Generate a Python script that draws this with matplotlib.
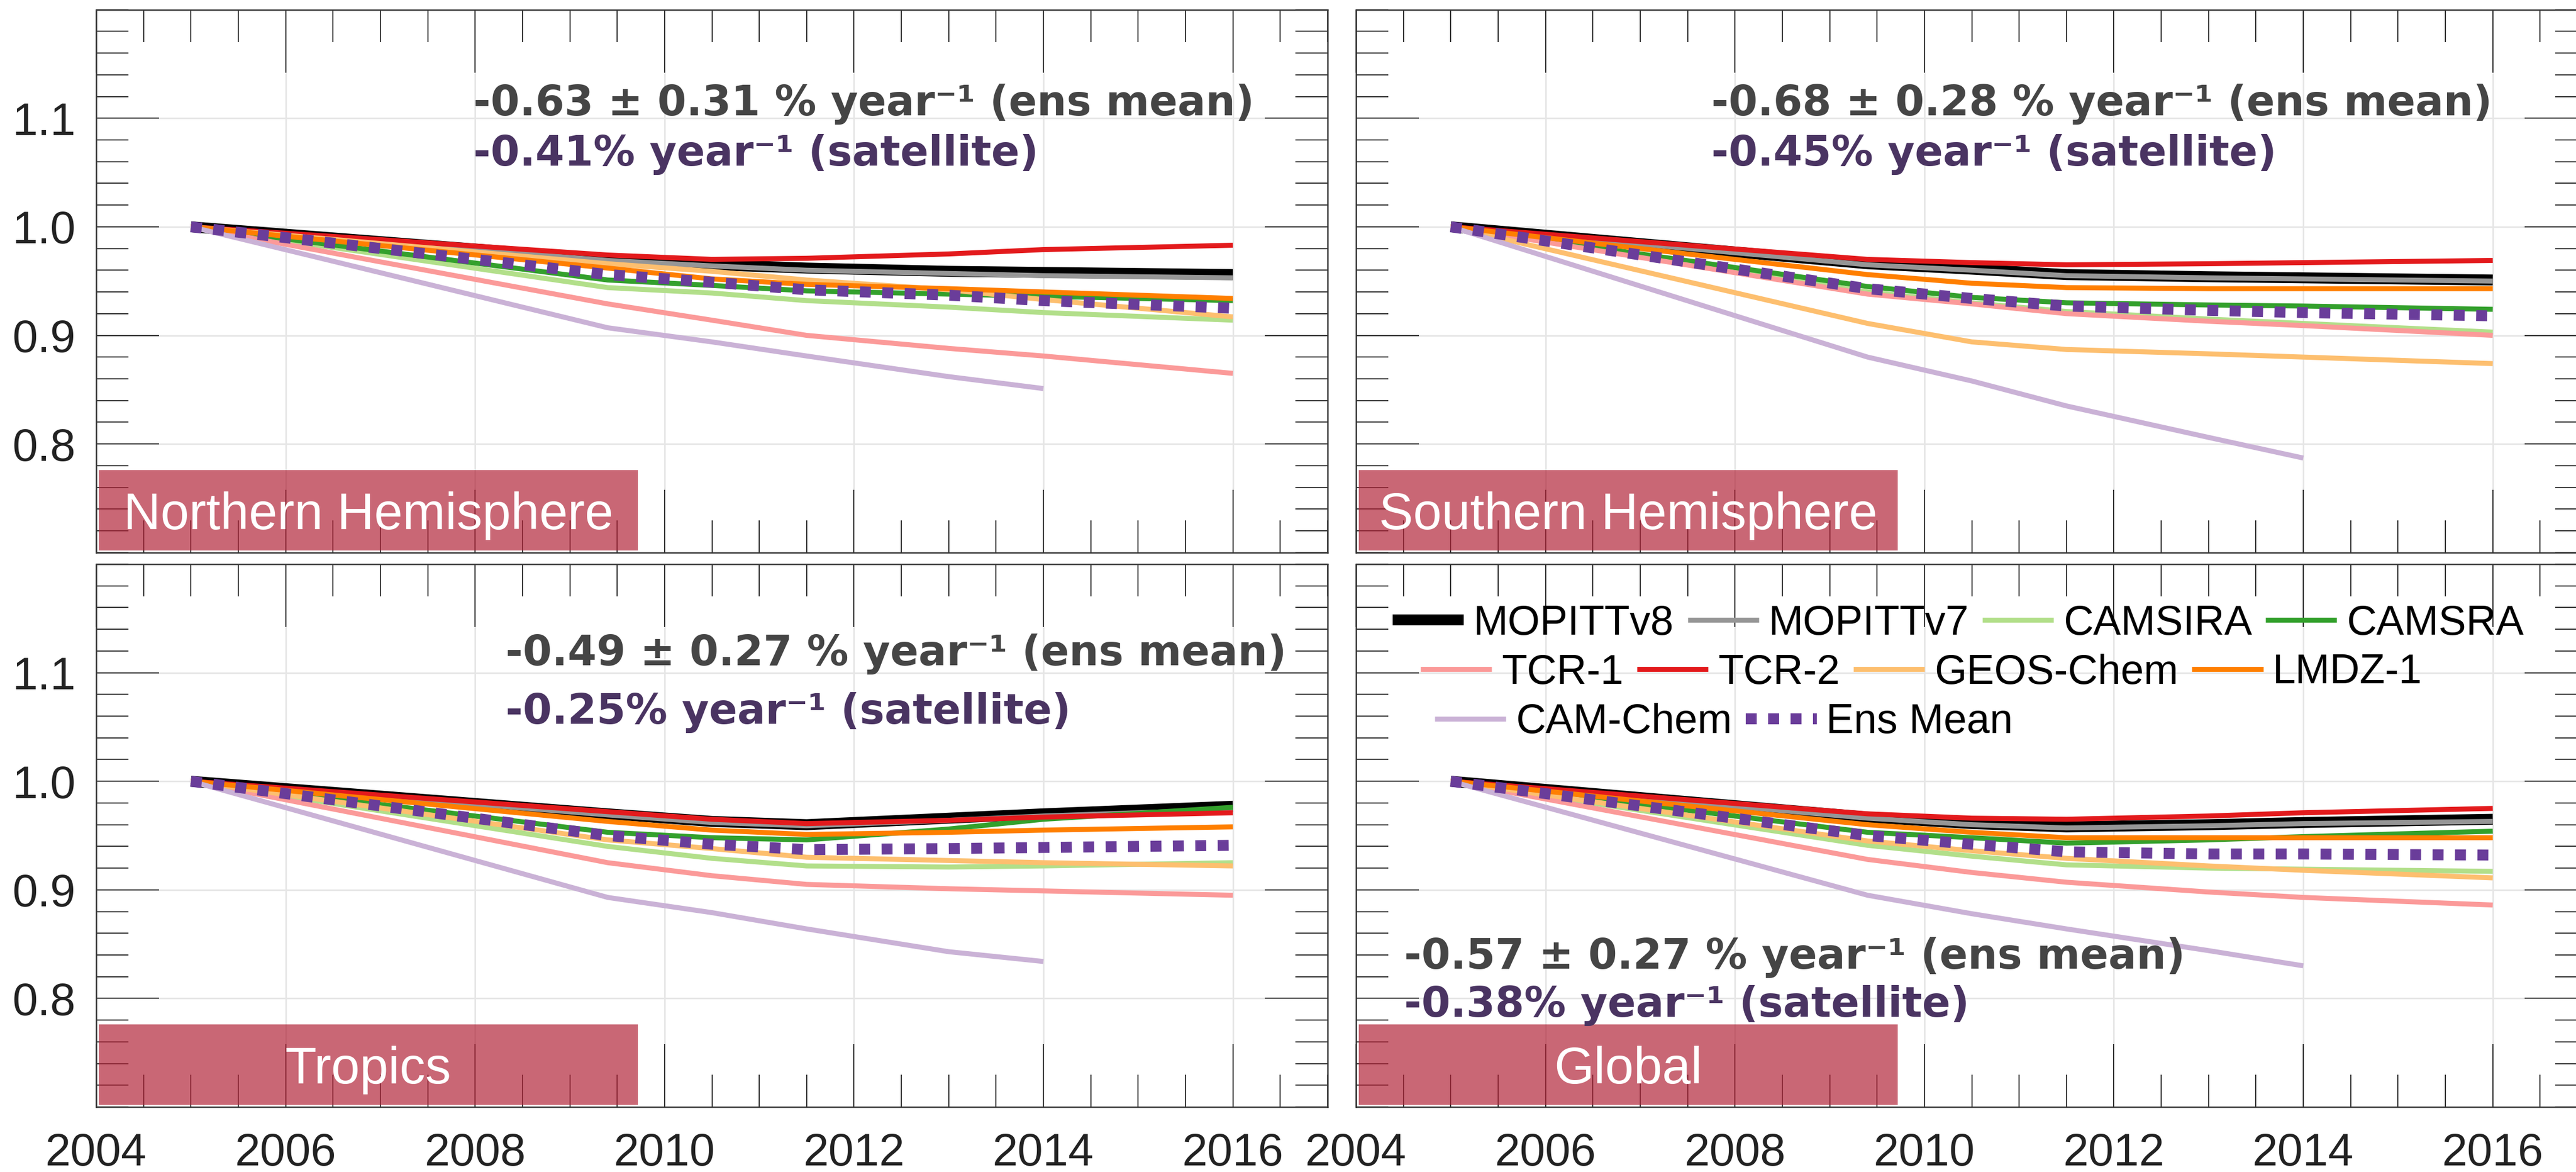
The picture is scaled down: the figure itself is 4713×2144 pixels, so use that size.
import numpy as np
import matplotlib
matplotlib.use('Agg')
import matplotlib.pyplot as plt
from matplotlib.ticker import MultipleLocator, FixedLocator
from matplotlib.patches import Rectangle

plt.rcParams['font.family'] = ['Liberation Sans', 'DejaVu Sans']

# sample times (CAM-Chem stops in 2014)
years = [2005, 2009.4, 2010.5, 2011.5, 2013, 2014, 2016]

regions = ['Northern Hemisphere', 'Southern Hemisphere', 'Tropics', 'Global']

# normalised CO, one row per region: NH, SH, Tropics, Global
mopittv8 = [[1.0, 0.970, 0.965, 0.962, 0.959, 0.958, 0.956],
            [1.0, 0.966, 0.961, 0.956, 0.954, 0.953, 0.951],
            [1.0, 0.970, 0.963, 0.960, 0.966, 0.970, 0.977],
            [1.0, 0.967, 0.961, 0.958, 0.960, 0.962, 0.965]]
mopittv7 = [[1.0, 0.969, 0.964, 0.960, 0.957, 0.955, 0.953],
            [1.0, 0.965, 0.960, 0.955, 0.953, 0.952, 0.950],
            [1.0, 0.969, 0.962, 0.959, 0.964, 0.968, 0.974],
            [1.0, 0.966, 0.960, 0.957, 0.959, 0.961, 0.963]]
camsira = [[1.0, 0.944, 0.939, 0.932, 0.926, 0.921, 0.914],
           [1.0, 0.940, 0.930, 0.922, 0.915, 0.911, 0.903],
           [1.0, 0.940, 0.929, 0.922, 0.921, 0.922, 0.925],
           [1.0, 0.941, 0.931, 0.923, 0.920, 0.919, 0.917]]
camsra = [[1.0, 0.951, 0.946, 0.941, 0.938, 0.936, 0.932],
          [1.0, 0.945, 0.935, 0.930, 0.928, 0.927, 0.924],
          [1.0, 0.953, 0.948, 0.946, 0.956, 0.965, 0.976],
          [1.0, 0.953, 0.948, 0.943, 0.946, 0.949, 0.954]]
tcr1 = [[1.0, 0.929, 0.914, 0.900, 0.888, 0.881, 0.865],
        [1.0, 0.938, 0.929, 0.920, 0.913, 0.909, 0.900],
        [1.0, 0.925, 0.913, 0.905, 0.901, 0.899, 0.895],
        [1.0, 0.928, 0.916, 0.907, 0.898, 0.893, 0.886]]
tcr2 = [[1.0, 0.974, 0.970, 0.971, 0.975, 0.979, 0.983],
        [1.0, 0.970, 0.967, 0.965, 0.966, 0.967, 0.969],
        [1.0, 0.972, 0.965, 0.961, 0.964, 0.967, 0.971],
        [1.0, 0.970, 0.966, 0.965, 0.968, 0.971, 0.975]]
geoschem = [[1.0, 0.966, 0.959, 0.951, 0.942, 0.933, 0.917],
            [1.0, 0.911, 0.894, 0.887, 0.883, 0.880, 0.874],
            [1.0, 0.946, 0.938, 0.930, 0.927, 0.925, 0.922],
            [1.0, 0.945, 0.936, 0.929, 0.922, 0.918, 0.911]]
lmdz1 = [[1.0, 0.962, 0.952, 0.947, 0.943, 0.940, 0.934],
         [1.0, 0.956, 0.948, 0.944, 0.943, 0.943, 0.943],
         [1.0, 0.963, 0.955, 0.951, 0.953, 0.955, 0.958],
         [1.0, 0.960, 0.953, 0.948, 0.948, 0.948, 0.948]]
camchem = [[1.0, 0.907, 0.894, 0.881, 0.862, 0.851],
           [1.0, 0.880, 0.858, 0.835, 0.806, 0.787],
           [1.0, 0.893, 0.879, 0.864, 0.843, 0.834],
           [1.0, 0.895, 0.878, 0.864, 0.844, 0.830]]
ensmean = [[1.0, 0.956, 0.949, 0.942, 0.937, 0.932, 0.925],
           [1.0, 0.943, 0.934, 0.927, 0.923, 0.921, 0.918],
           [1.0, 0.950, 0.942, 0.937, 0.938, 0.939, 0.941],
           [1.0, 0.950, 0.942, 0.935, 0.933, 0.933, 0.932]]

ens_text = ['-0.63 ± 0.31 % year⁻¹ (ens mean)', '-0.68 ± 0.28 % year⁻¹ (ens mean)',
            '-0.49 ± 0.27 % year⁻¹ (ens mean)', '-0.57 ± 0.27 % year⁻¹ (ens mean)']
sat_text = ['-0.41% year⁻¹ (satellite)', '-0.45% year⁻¹ (satellite)',
            '-0.25% year⁻¹ (satellite)', '-0.38% year⁻¹ (satellite)']
# text anchor: x, y of first line, y of second line
text_pos = [(2007.98, 1.1028, 1.0564), (2007.75, 1.1028, 1.0564),
            (2008.32, 1.107, 1.053), (2004.51, 0.8274, 0.783)]

series = [('MOPITTv8', mopittv8, '#000000', 4.8),
          ('MOPITTv7', mopittv7, '#969696', 2.2),
          ('CAMSIRA', camsira, '#b2df8a', 2.2),
          ('CAMSRA', camsra, '#33a02c', 2.2),
          ('TCR-1', tcr1, '#fb9a99', 2.2),
          ('TCR-2', tcr2, '#e31a1c', 2.2),
          ('GEOS-Chem', geoschem, '#fdbf6f', 2.2),
          ('LMDZ-1', lmdz1, '#ff7f00', 2.2),
          ('CAM-Chem', camchem, '#cab2d6', 2.2),
          ('Ens Mean', ensmean, '#6a3d9a', 4.8)]

W, H = 4713, 2144
fig = plt.figure(figsize=(W / 300, H / 300), dpi=300)

ax_w = 2253 / W
ax_h = 993 / H
lefts = [176 / W, 2481 / W]
bottoms = [1 - 1010.7 / H, 1 - 2025 / H]

axes = []
for i in range(4):
    r, c = divmod(i, 2)
    ax = fig.add_axes([lefts[c], bottoms[r], ax_w, ax_h])
    axes.append(ax)
    handles = []
    for name, vals, col, lw in series:
        v = vals[i]
        if name == 'Ens Mean':
            h, = ax.plot(years[:len(v)], v, color=col, lw=lw, dashes=(1.0, 1.05),
                         solid_capstyle='butt', label=name)
        else:
            h, = ax.plot(years[:len(v)], v, color=col, lw=lw, solid_capstyle='butt',
                         label=name)
        handles.append(h)

    ax.set_xlim(2004, 2017)
    ax.set_ylim(0.7, 1.2)
    ax.xaxis.set_major_locator(FixedLocator(np.arange(2004, 2017, 2)))
    ax.xaxis.set_minor_locator(MultipleLocator(0.5))
    ax.yaxis.set_major_locator(FixedLocator([0.8, 0.9, 1.0, 1.1]))
    ax.yaxis.set_minor_locator(MultipleLocator(0.02))
    ax.grid(True, which='major', color='#e6e6e6', lw=0.7)
    ax.tick_params(which='both', direction='in', top=True, right=True,
                   color='#333333', width=0.5, labelsize=20, labelcolor='#222222')
    ax.tick_params(which='major', length=27.6)
    ax.tick_params(which='minor', length=14.2)
    ax.tick_params(axis='x', pad=11)
    ax.tick_params(axis='y', pad=9)
    for s in ax.spines.values():
        s.set_color('#333333')
        s.set_linewidth(0.6)
    if r == 0:
        ax.set_xticklabels([])
    else:
        ax.set_xticklabels([str(y) for y in range(2004, 2017, 2)])
    if c == 1:
        ax.set_yticklabels([])
    else:
        ax.set_yticklabels(['0.8', '0.9', '1.0', '1.1'])

    # region label box
    ax.add_patch(Rectangle((2004.03, 0.702), 5.69, 0.074, facecolor='#b2263a',
                           alpha=0.7, edgecolor='none', zorder=3))
    ax.text(2006.875, 0.7215, regions[i], color='white', fontsize=22.5,
            ha='center', va='baseline', zorder=4)

    tx, ty1, ty2 = text_pos[i]
    ax.text(tx, ty1, ens_text[i], color='#454545', fontsize=18.3, fontweight='bold',
            family=['DejaVu Sans'], ha='left', va='baseline', zorder=5)
    ax.text(tx, ty2, sat_text[i], color='#4a3462', fontsize=18.3, fontweight='bold',
            family=['DejaVu Sans'], ha='left', va='baseline', zorder=5)

# legend rows in the Global panel
rows = [(handles[0:4], 2548, 1141), (handles[4:8], 2599, 1231), (handles[8:10], 2625, 1322)]
for hs, px, py in rows:
    fig.legend(handles=hs, loc='center left', bbox_to_anchor=(px / W, 1 - py / H),
               bbox_transform=fig.transFigure, ncol=len(hs), frameon=False,
               fontsize=18.2, borderpad=0, borderaxespad=0, handlelength=1.72,
               handletextpad=0.23, columnspacing=0.33)

fig.savefig('out.png', dpi=300)
